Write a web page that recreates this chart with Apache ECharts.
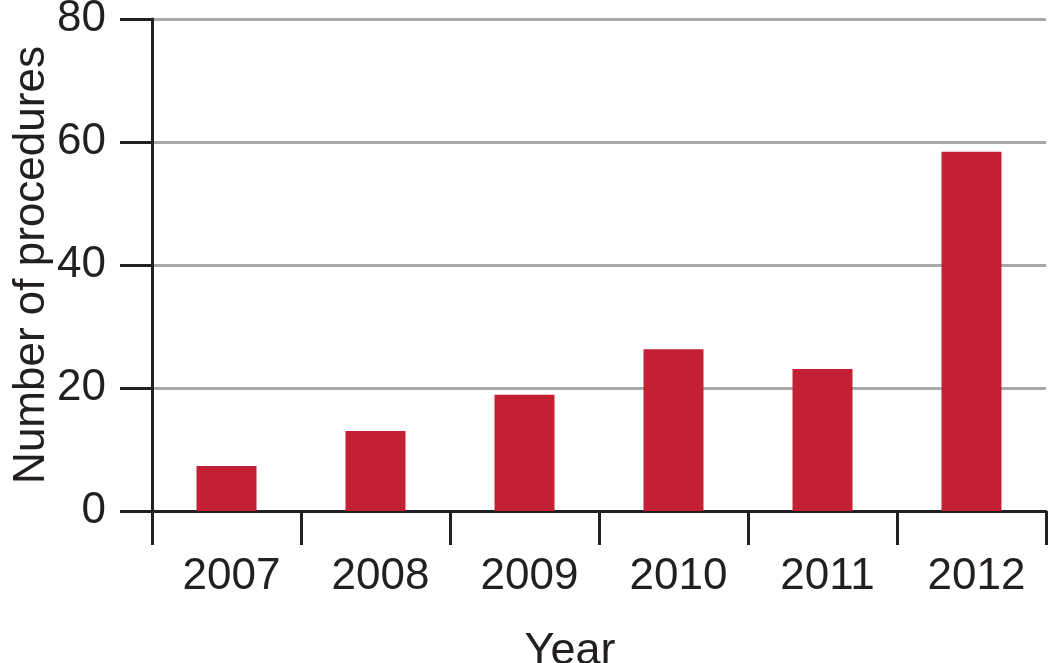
<!DOCTYPE html>
<html>
<head>
<meta charset="utf-8">
<script src="https://cdn.jsdelivr.net/npm/echarts@6/dist/echarts.min.js"></script>
<style>html,body{margin:0;padding:0;background:#fff}#c{width:1050px;height:663px}</style>
</head>
<body>
<div id="c"></div>
<script>
const years = ['2007', '2008', '2009', '2010', '2011', '2012'];
const procedures = [7.3, 13.0, 18.9, 26.3, 23.1, 58.4];
const yTicks = [0, 20, 40, 60, 80];

const chart = echarts.init(document.getElementById('c'));
const font = '"Liberation Sans", Arial, Helvetica, sans-serif';
chart.setOption({
  animation: false,
  backgroundColor: '#ffffff',
  grid: { left: 152, right: 4, top: 19, bottom: 152, containLabel: false, outerBoundsMode: 'none' },
  xAxis: {
    type: 'category',
    data: years,
    boundaryGap: true,
    name: 'Year',
    nameLocation: 'middle',
    nameGap: 118,
    nameMoveOverlap: false,
    nameTextStyle: { fontFamily: font, fontSize: 45, color: '#231f20', padding: [0, 58, 0, 0] },
    axisLine: { show: true, lineStyle: { color: '#231f20', width: 3 } },
    axisTick: { show: true, inside: false, length: 34, interval: 0, alignWithLabel: false, lineStyle: { color: '#231f20', width: 3 } },
    axisLabel: { fontFamily: font, fontSize: 44, color: '#231f20', margin: 44, interval: 0, padding: [0, 0, 0, 10] },
    splitLine: { show: false }
  },
  yAxis: {
    type: 'value',
    min: yTicks[0],
    max: yTicks[yTicks.length - 1],
    interval: 20,
    name: 'Number of procedures',
    nameLocation: 'middle',
    nameGap: 98,
    nameMoveOverlap: false,
    nameTextStyle: { fontFamily: font, fontSize: 44, color: '#231f20' },
    axisLine: { show: true, lineStyle: { color: '#231f20', width: 3 } },
    axisTick: { show: true, inside: false, length: 32, lineStyle: { color: '#231f20', width: 3 } },
    axisLabel: { fontFamily: font, fontSize: 44, color: '#231f20', margin: 46 },
    splitLine: { show: true, lineStyle: { color: '#a7a9ac', width: 3 } }
  },
  series: [{
    type: 'bar',
    data: procedures,
    barWidth: 60,
    itemStyle: { color: '#c32033' }
  }]
});
</script>
</body>
</html>
